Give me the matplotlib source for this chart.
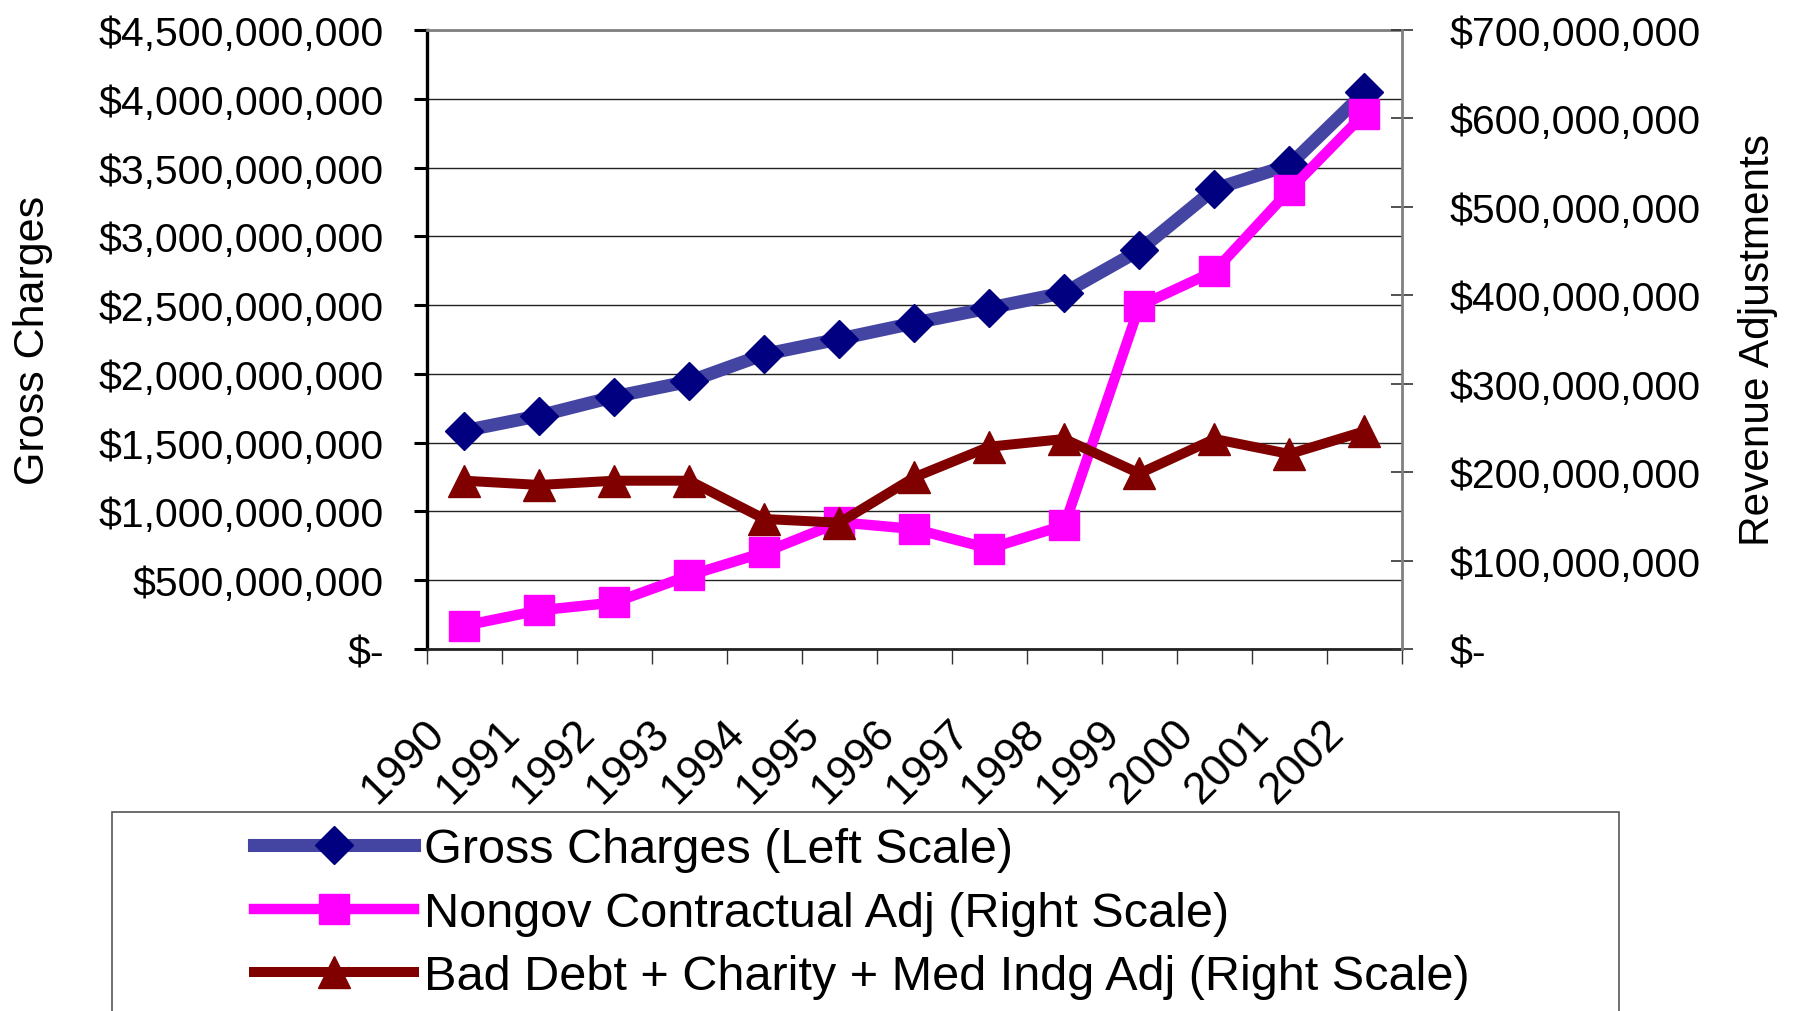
import numpy as np
import matplotlib
matplotlib.use("Agg")
import matplotlib.pyplot as plt
from matplotlib.ticker import FuncFormatter, MultipleLocator
from matplotlib.patches import Rectangle
from matplotlib.transforms import ScaledTranslation

plt.rcParams['font.family'] = ['Liberation Sans', 'DejaVu Sans']

# values
years = ['1990', '1991', '1992', '1993', '1994', '1995', '1996',
         '1997', '1998', '1999', '2000', '2001', '2002']
gross_charges = [1.587e9, 1.696e9, 1.834e9, 1.946e9, 2.142e9, 2.254e9, 2.370e9,
                 2.479e9, 2.590e9, 2.898e9, 3.344e9, 3.518e9, 4.047e9]
nongov_adj = [26.4e6, 43.7e6, 52.6e6, 83.3e6, 109.3e6, 143.3e6, 135.7e6,
              113.6e6, 139.9e6, 387.9e6, 427.2e6, 518.7e6, 605.4e6]
bad_debt_adj = [190.3e6, 185.5e6, 190.3e6, 190.3e6, 147.0e6, 142.8e6, 194.2e6,
                228.8e6, 237.5e6, 198.5e6, 237.5e6, 220.5e6, 246.2e6]
series_labels = ['Gross Charges (Left Scale)',
                 'Nongov Contractual Adj (Right Scale)',
                 'Bad Debt + Charity + Med Indg Adj (Right Scale)']


def dollars(v, pos):
    if v == 0:
        return '$-'
    return f'${v:,.0f}'


fig = plt.figure(figsize=(17.93, 10.12), dpi=100)
ax = fig.add_axes([0.2381, 0.3577, 0.5438, 0.6117])
ax2 = ax.twinx()
ax2.patch.set_visible(False)

x = np.arange(len(years))

l1, = ax.plot(x, gross_charges, color='#4444a2', lw=9.4, marker='D', ms=19.5,
              mfc='#000080', mec='#000080', mew=1, label=series_labels[0])
l2, = ax2.plot(x, nongov_adj, color='#ff00ff', lw=7.5, marker='s', ms=21,
               mfc='#ff00ff', mec='#ff00ff', mew=1, label=series_labels[1])
l3, = ax2.plot(x, bad_debt_adj, color='#800000', lw=7.2, marker='^', ms=23,
               mfc='#800000', mec='#800000', mew=1, label=series_labels[2])

# axes limits and ticks
ax.set_xlim(-0.5, len(years) - 0.5)
ax.set_ylim(0, 4.5e9)
ax2.set_ylim(0, 7e8)
ax.yaxis.set_major_locator(MultipleLocator(5e8))
ax2.yaxis.set_major_locator(MultipleLocator(1e8))
ax.yaxis.set_major_formatter(FuncFormatter(dollars))
ax2.yaxis.set_major_formatter(FuncFormatter(dollars))

ax.grid(axis='y', color='#222222', lw=1.0)
ax.set_axisbelow(True)

ax.set_xticks(np.arange(-0.5, len(years), 1))
ax.set_xticklabels([])
ax.set_xticks(x, minor=True)
ax.set_xticklabels(years, minor=True, rotation=45, ha='right', va='top',
                   rotation_mode='anchor')
ax.tick_params(axis='x', which='major', direction='out', length=11, width=1,
               color='#333333')
ax.tick_params(axis='x', which='minor', length=0, pad=45, labelsize=32)
for lbl in ax.get_xticklabels(minor=True):
    lbl.set_transform(lbl.get_transform() +
                      ScaledTranslation(-0.41, 0, fig.dpi_scale_trans))

ax.tick_params(axis='y', direction='out', length=9.4, width=2.2, labelsize=29.5,
               pad=21.5)
ax2.tick_params(axis='y', direction='inout', length=16, width=1.2,
                color='#333333', labelsize=29.5, pad=26.6)

# spines
ax.spines['left'].set_color('black')
ax.spines['left'].set_linewidth(2.4)
ax.spines['bottom'].set_color('#222222')
ax.spines['bottom'].set_linewidth(2)
ax.spines['top'].set_color('#808080')
ax.spines['top'].set_linewidth(2)
ax.spines['right'].set_visible(False)
for s in ['left', 'top', 'bottom']:
    ax2.spines[s].set_visible(False)
ax2.spines['right'].set_color('#808080')
ax2.spines['right'].set_linewidth(2)

ax.set_ylabel('Gross Charges', fontsize=31)
ax.yaxis.set_label_coords(-0.384, 0.5)
ax2.set_ylabel('Revenue Adjustments', fontsize=30.5)
ax2.yaxis.set_label_coords(1.345, 0.5)

# legend (box runs off the bottom of the figure, like the original)
fig.legend([l1, l2, l3], series_labels, loc='upper left',
           bbox_to_anchor=(0.1417, 0.1820), frameon=False, fontsize=35,
           handlelength=3.3, handletextpad=0.2, labelspacing=0.385,
           borderpad=0, borderaxespad=0, numpoints=1)
fig.add_artist(Rectangle((0.0625, -0.05), 0.8405, 0.2466,
                         transform=fig.transFigure, fill=False,
                         edgecolor='#555555', lw=1.2))

fig.savefig('out.png', dpi=100)
